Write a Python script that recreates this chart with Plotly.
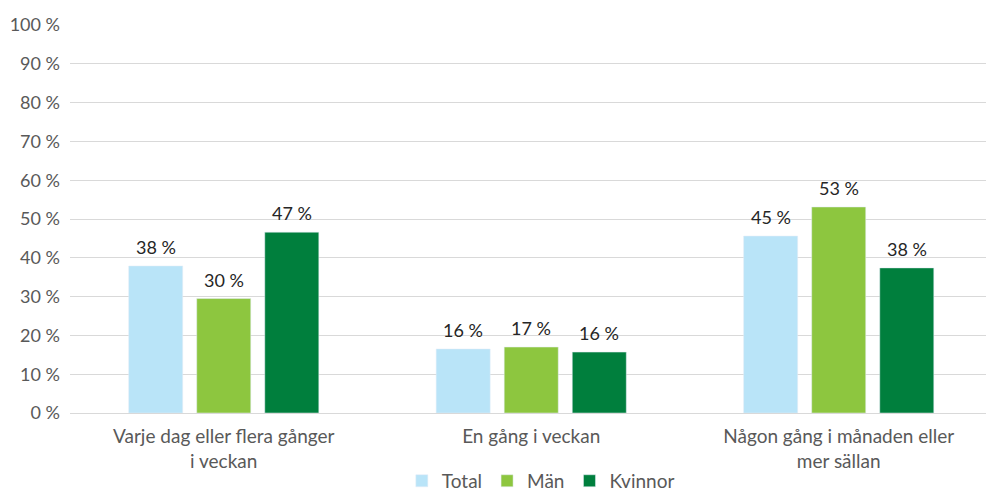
import plotly.graph_objects as go

categories = ["Varje dag eller flera gånger<br>i veckan", "En gång i veckan", "Någon gång i månaden eller<br>mer sällan"]
series_names = ["Total", "Män", "Kvinnor"]
total_values = [37.9, 16.5, 45.6]
man_values = [29.5, 17.0, 53.1]
kvinnor_values = [46.6, 15.7, 37.4]
total_labels = ["38 %", "16 %", "45 %"]
man_labels = ["30 %", "17 %", "53 %"]
kvinnor_labels = ["47 %", "16 %", "38 %"]
y_ticks = [0, 10, 20, 30, 40, 50, 60, 70, 80, 90, 100]
y_tick_labels = [f"{v} %" for v in y_ticks]

colors = ["#B9E4F8", "#8DC63F", "#007F3D"]
FONT = "Lato"

W, H = 986, 491
ML, MR, MT, MB = 70, 0, 25, 78
XRANGE = [-0.5, 2.479]
BARGAP, BARGROUPGAP = 0.336, 0.206

# pixel width of one bar slot inside a group (for label placement)
px_per_cat = (W - ML - MR) / (XRANGE[1] - XRANGE[0])
slot_px = px_per_cat * (1 - BARGAP) / len(series_names)

fig = go.Figure()
annotations = []
all_vals = [total_values, man_values, kvinnor_values]
all_labs = [total_labels, man_labels, kvinnor_labels]
for si, (name, vals, labs, col) in enumerate(zip(series_names, all_vals, all_labs, colors)):
    fig.add_trace(go.Bar(
        x=categories, y=vals, name=name, marker_color=col,
        hoverinfo="skip",
    ))
    offset = (si - (len(series_names) - 1) / 2) * slot_px
    for cat, v, lab in zip(categories, vals, labs):
        annotations.append(dict(
            x=cat, y=v, xref="x", yref="y", text=lab, showarrow=False,
            xanchor="center", yanchor="bottom", xshift=offset, yshift=6,
            font=dict(family=FONT, size=18, color="#262626"),
        ))

fig.update_layout(
    width=W, height=H,
    margin=dict(l=ML, r=MR, t=MT, b=MB, autoexpand=False),
    paper_bgcolor="white", plot_bgcolor="white",
    barmode="group", bargap=BARGAP, bargroupgap=BARGROUPGAP,
    font=dict(family=FONT, size=18, color="#595959"),
    annotations=annotations,
    legend=dict(orientation="h", x=0.514, xanchor="center", y=-0.175, yanchor="middle",
                font=dict(family=FONT, size=19, color="#595959"),
                itemwidth=30, traceorder="normal"),
    xaxis=dict(range=XRANGE, showgrid=False, showline=False, zeroline=False,
               automargin=False, ticklabelstandoff=10,
               tickfont=dict(family=FONT, size=19, color="#595959"), ticks=""),
    yaxis=dict(range=[0, 100], tickvals=y_ticks, ticktext=y_tick_labels,
               showgrid=True, gridcolor="#D9D9D9", gridwidth=1,
               zeroline=True, zerolinecolor="#D9D9D9", zerolinewidth=1,
               showline=False, ticks="", ticklabelstandoff=9, automargin=False,
               tickfont=dict(family=FONT, size=18, color="#595959")),
)

fig.write_html("out.html", config={"displayModeBar": False},
               post_script="document.body.style.margin='0';document.body.style.overflow='hidden';")
